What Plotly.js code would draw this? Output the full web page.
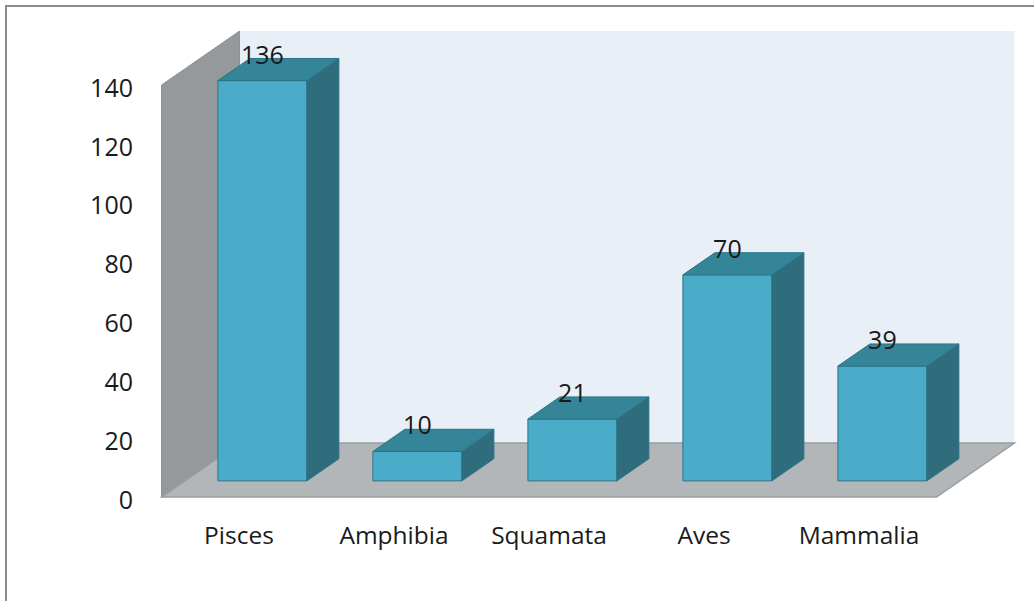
<!DOCTYPE html>
<html>
<head>
<meta charset="utf-8">
<script src="https://cdn.plot.ly/plotly-3.0.1.min.js"></script>
<style>
  html, body { margin: 0; padding: 0; background: #ffffff; }
  #wrap { position: relative; width: 1034px; height: 601px; overflow: hidden; }
  #chart { width: 1034px; height: 601px; }
  #frame { position: absolute; left: 5px; top: 5px; width: 1100px; height: 700px;
           border-left: 2px solid #8c8c8c; border-top: 2px solid #8c8c8c; pointer-events: none; }
</style>
</head>
<body>
<div id="wrap">
  <div id="chart"></div>
  <div id="frame"></div>
</div>
<script>
// ---- data ----
const categories = ['Pisces', 'Amphibia', 'Squamata', 'Aves', 'Mammalia'];
const values = [136, 10, 21, 70, 39];
const yTicks = [0, 20, 40, 60, 80, 100, 120, 140];

// ---- 3D look (layout constants) ----
const PX_PER_CAT = 155, PX_PER_UNIT = 2.943;
const M = {l: 160, r: 10, t: 20, b: 91};
const W = 1034, H = 601;
const cat0Px = 239;      // pixel of front-plane centre of first category
const zeroPx = 500;      // pixel of y = 0
const DX = 78 / PX_PER_CAT;      // depth offset in category units
const DY = 54 / PX_PER_UNIT;     // depth offset in value units
const floorY = 1;                // front edge of floor in value units
const wallTop = 141;
const F0 = 0.30, FD = 0.41;      // bar front position and depth (fractions of full depth)
const barW = 89 / PX_PER_CAT;

const xRange = [(M.l - cat0Px) / PX_PER_CAT, (W - M.r - cat0Px) / PX_PER_CAT];
const yRange = [-((H - M.b) - zeroPx) / PX_PER_UNIT, (zeroPx - M.t) / PX_PER_UNIT];

const idx = categories.map((c, i) => i);
const base = floorY + F0 * DY;
const cx = idx.map(i => i + F0 * DX);
const bdx = FD * DX, bdy = FD * DY;

const frontCol = '#4aacc8', sideCol = '#2f6c7c', topCol = '#358598', edgeCol = '#2b7488';
const FONT = 'Open Sans, sans-serif';

const traces = [];
traces.push({
  type: 'bar', x: cx, y: values, base: idx.map(() => base), width: barW,
  marker: {color: frontCol, line: {color: edgeCol, width: 1}},
  hoverinfo: 'skip', showlegend: false
});
idx.forEach(i => {
  const xl = cx[i] - barW / 2, xr = cx[i] + barW / 2;
  const top = base + values[i];
  traces.push({
    type: 'scatter', mode: 'lines', fill: 'toself', fillcolor: sideCol,
    x: [xr, xr + bdx, xr + bdx, xr, xr],
    y: [base, base + bdy, top + bdy, top, base],
    line: {color: edgeCol, width: 1}, hoverinfo: 'skip', showlegend: false
  });
  traces.push({
    type: 'scatter', mode: 'lines', fill: 'toself', fillcolor: topCol,
    x: [xl, xr, xr + bdx, xl + bdx, xl],
    y: [top, top, top + bdy, top + bdy, top],
    line: {color: edgeCol, width: 1}, hoverinfo: 'skip', showlegend: false
  });
});
traces.push({
  type: 'scatter', mode: 'text',
  x: cx,
  y: values.map(v => base + v + bdy + 0.4),
  text: values.map(String), textposition: 'middle center',
  textfont: {family: FONT, size: 25, color: '#1a1a1a'},
  cliponaxis: false, hoverinfo: 'skip', showlegend: false
});

const x0 = -0.5, x1 = categories.length - 0.5;
const shapes = [
  {type: 'rect', layer: 'below', xref: 'x', yref: 'y',
   x0: x0 + DX, x1: x1 + DX, y0: floorY + DY, y1: wallTop + DY,
   fillcolor: '#e8eff7', line: {width: 0}},
  {type: 'path', layer: 'below', xref: 'x', yref: 'y',
   path: `M ${x0},${floorY} L ${x0},${wallTop} L ${x0 + DX},${wallTop + DY} L ${x0 + DX},${floorY + DY} Z`,
   fillcolor: '#95999c', line: {color: '#8f9396', width: 1}},
  {type: 'path', layer: 'below', xref: 'x', yref: 'y',
   path: `M ${x0},${floorY} L ${x0 + DX},${floorY + DY} L ${x1 + DX},${floorY + DY} L ${x1},${floorY} Z`,
   fillcolor: '#b3b6b9', line: {color: '#9a9da0', width: 1.5}}
];

const layout = {
  width: W, height: H, margin: M,
  paper_bgcolor: '#ffffff', plot_bgcolor: 'rgba(0,0,0,0)',
  showlegend: false, bargap: 0,
  font: {family: FONT, size: 25, color: '#1a1a1a'},
  xaxis: {range: xRange, tickvals: idx, ticktext: categories, showgrid: false, zeroline: false,
          showline: false, ticks: 'outside', ticklen: 4, tickcolor: 'rgba(0,0,0,0)',
          tickfont: {family: FONT, size: 24.5, color: '#1a1a1a'}, fixedrange: true},
  yaxis: {range: yRange, tickvals: yTicks, ticktext: yTicks.map(String), showgrid: false, zeroline: false,
          showline: false, ticks: 'outside', ticklen: 21, tickcolor: 'rgba(0,0,0,0)',
          tickfont: {family: FONT, size: 25, color: '#1a1a1a'}, fixedrange: true},
  shapes: shapes
};

Plotly.newPlot('chart', traces, layout, {displayModeBar: false, staticPlot: true});
</script>
</body>
</html>
